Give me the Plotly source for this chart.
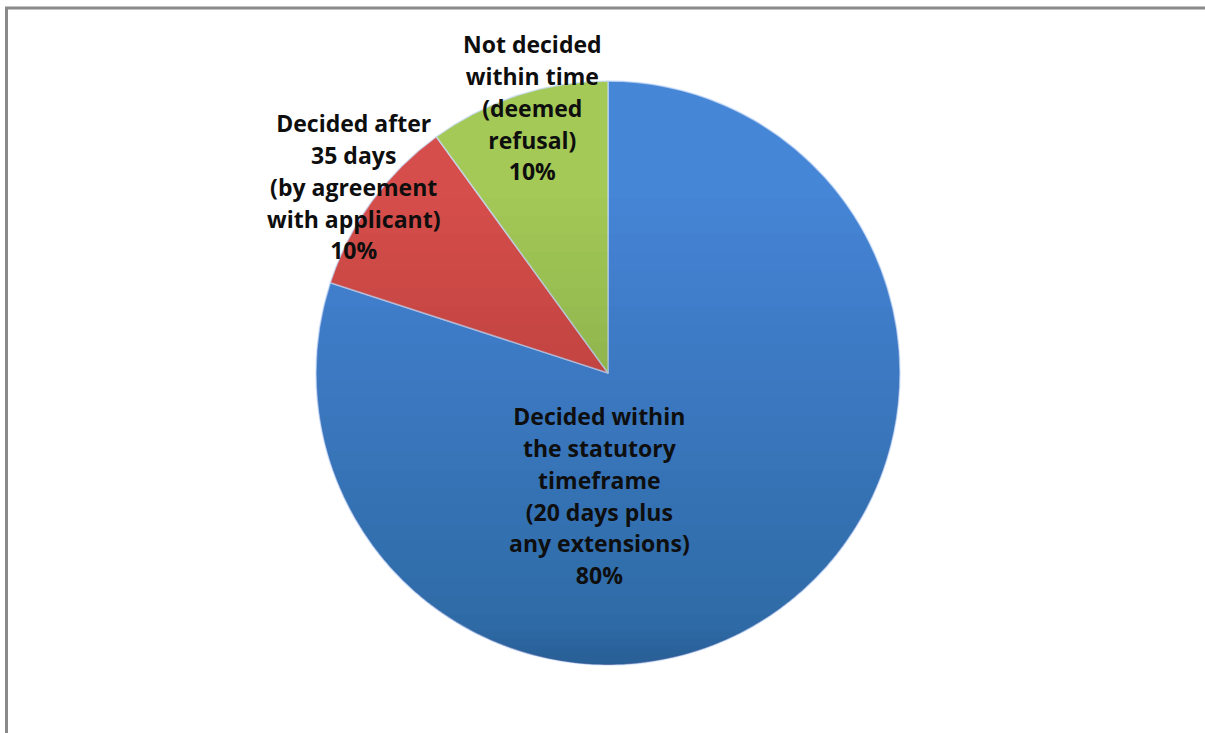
import numpy as np
import plotly.graph_objects as go

# Outcome of requests, share of all decisions
categories = [
    "Decided within<br>the statutory<br>timeframe<br>(20 days plus<br>any extensions)",
    "Decided after<br>35 days<br>(by agreement<br>with applicant)",
    "Not decided<br>within time<br>(deemed<br>refusal)",
]
shares = [80, 10, 10]
slice_colors = ["#4686d6", "#d64e4b", "#a4c957"]

# label anchor points, in units of the pie radius (x right, y up)
label_x = [-0.03, -0.873, -0.26]
label_y = [-0.42, 0.64, 0.908]

W, H = 1205, 733
cx, cy, R = 608, 373, 292          # pie centre / radius in pixels
dom_x = [(cx - R) / W, (cx + R) / W]
dom_y = [(H - cy - R) / H, (H - cy + R) / H]

fig = go.Figure()

fig.add_trace(go.Pie(
    values=shares,
    labels=[c.replace("<br>", " ") for c in categories],
    sort=False,
    direction="clockwise",
    rotation=0,
    marker=dict(colors=slice_colors, line=dict(color="rgba(200,220,250,0.7)", width=1.5)),
    textinfo="none",
    hoverinfo="label+percent",
    showlegend=False,
    domain=dict(x=dom_x, y=dom_y),
))


def segment_path(y_cut, below=True, n=90):
    """Closed path of the part of the unit circle below (or above) a horizontal chord."""
    a = np.arcsin(np.clip(y_cut, -1, 1))
    if below:
        ang = np.linspace(np.pi - a, 2 * np.pi + a, n)
    else:
        ang = np.linspace(a, np.pi - a, n)
    pts = [f"{np.cos(t):.5f},{np.sin(t):.5f}" for t in ang]
    return "M" + " L".join(pts) + " Z"


# shading: stacked translucent circle segments darken the lower part, lighten the top
for yc in np.linspace(0.6, -0.95, 26):
    fig.add_shape(type="path", xref="x", yref="y", path=segment_path(yc, below=True),
                  fillcolor="rgba(10,20,40,0.006)", line=dict(width=0), layer="above")
for yc in np.linspace(0.2, 0.95, 14):
    fig.add_shape(type="path", xref="x", yref="y", path=segment_path(yc, below=False),
                  fillcolor="rgba(255,255,255,0.004)", line=dict(width=0), layer="above")
# slightly darker rim toward the bottom edge
for yc in np.linspace(-0.88, -0.99, 5):
    fig.add_shape(type="path", xref="x", yref="y", path=segment_path(yc, below=True, n=60),
                  fillcolor="rgba(10,20,40,0.018)", line=dict(width=0), layer="above")

total = sum(shares)
for lbl, v, lx, ly in zip(categories, shares, label_x, label_y):
    lines = f"{lbl}<br>{round(100 * v / total)}%".split("<br>")
    fig.add_annotation(
        x=lx, y=ly, xref="x", yref="y",
        text="<br>".join(f"<span style='font-size:23px'>{s}</span>" for s in lines),
        showarrow=False,
        font=dict(family="'Open Sans', Lato, sans-serif", size=24.5, color="#0e0e0e", weight="bold"),
        align="center",
    )

fig.update_xaxes(domain=dom_x, range=[-1, 1], visible=False, fixedrange=True)
fig.update_yaxes(domain=dom_y, range=[-1, 1], visible=False, fixedrange=True)

# chart area frame
fig.add_shape(type="rect", xref="paper", yref="paper",
              x0=6.5 / W, x1=1.02, y0=-0.02, y1=(H - 8) / H,
              line=dict(color="#8a8a8a", width=3), layer="below")

fig.update_layout(
    width=W, height=H,
    margin=dict(l=0, r=0, t=0, b=0),
    paper_bgcolor="white", plot_bgcolor="rgba(0,0,0,0)",
)

fig.write_html("out.html")
